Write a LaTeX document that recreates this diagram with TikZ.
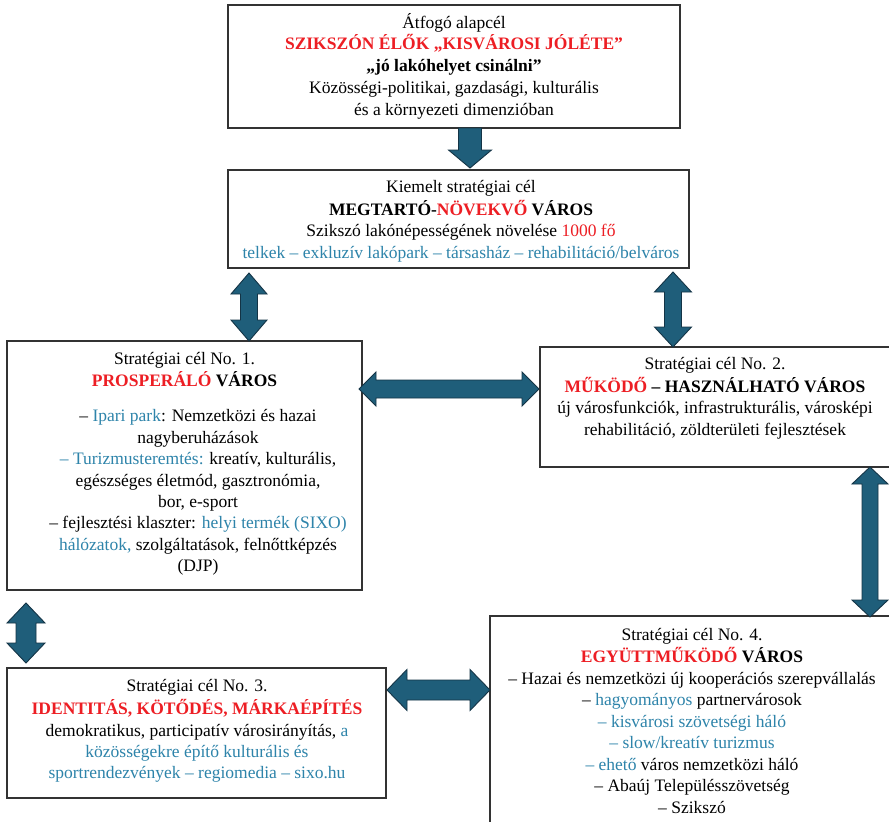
\documentclass[tikz,border=0pt]{standalone}
\usepackage{fontspec}
\setmainfont{Liberation Serif}
\usetikzlibrary{calc}
\definecolor{myred}{RGB}{237,30,36}
\definecolor{myblue}{RGB}{46,132,170}
\definecolor{arrfill}{RGB}{31,94,122}
\definecolor{arrline}{RGB}{20,52,70}
\newcommand\R[1]{\textcolor{myred}{#1}}
\newcommand\B[1]{\textcolor{myblue}{#1}}
\newcommand\vdarrow[5]{%
 \path[blockarrow] let \p1=(#1), \p2=(#2) in
 (\x1,\y1) -- (\x1+#4,\y1-#5) -- (\x1+#3,\y1-#5) -- (\x1+#3,\y2+#5) -- (\x1+#4,\y2+#5) -- (\x1,\y2) -- (\x1-#4,\y2+#5) -- (\x1-#3,\y2+#5) -- (\x1-#3,\y1-#5) -- (\x1-#4,\y1-#5) -- cycle;}
\newcommand\hdarrow[5]{%
 \path[blockarrow] let \p1=(#1), \p2=(#2) in
 (\x1,\y1) -- (\x1+#5,\y1+#4) -- (\x1+#5,\y1+#3) -- (\x2-#5,\y1+#3) -- (\x2-#5,\y1+#4) -- (\x2,\y1) -- (\x2-#5,\y1-#4) -- (\x2-#5,\y1-#3) -- (\x1+#5,\y1-#3) -- (\x1+#5,\y1-#4) -- cycle;}
\newcommand\sdarrow[5]{%
 \path[blockarrow] let \p1=(#1), \p2=(#2) in
 (\x1-#3,\y1) -- (\x1+#3,\y1) -- (\x1+#3,\y2+#5) -- (\x1+#4,\y2+#5) -- (\x1,\y2) -- (\x1-#4,\y2+#5) -- (\x1-#3,\y2+#5) -- cycle;}
\tikzset{
 box/.style={draw=black!80, line width=1.2pt, inner sep=0pt, outer sep=0pt},
 txt/.style={inner sep=0pt, outer sep=0pt, align=center, anchor=north, font=\fontsize{17.5}{21.4}\selectfont},
 blockarrow/.style={fill=arrfill, draw=arrline, line width=0.9pt, line join=miter}
}
\begin{document}
\begin{tikzpicture}[x=1pt,y=-1pt]
\useasboundingbox (0,0) rectangle (889,822);
\clip (0,0) rectangle (889,822);
\fill[white] (0,0) rectangle (889,822);
% boxes
\node[box, minimum width=452pt, minimum height=123pt] (b1) at (454,66.5) {};
\node[box, minimum width=461pt, minimum height=98pt] (b2) at (458.5,219) {};
\node[box, minimum width=355pt, minimum height=249pt] (b3) at (184.5,465.5) {};
\node[box, minimum width=358pt, minimum height=120pt] (b4) at (719,407) {};
\node[box, minimum width=410pt, minimum height=214pt] (b6) at (695,723) {};
\node[box, minimum width=379pt, minimum height=130pt] (b5) at (196.5,733) {};
% texts
\node[txt, font=\fontsize{17.5}{21.75}\selectfont] (t1) at (454,12.8) {\strut Átfogó alapcél\\
\textbf{\R{SZIKSZÓN ÉLŐK „KISVÁROSI JÓLÉTE”}}\\
\textbf{„jó lakóhelyet csinálni”}\\
Közösségi-politikai, gazdasági, kulturális\\
és a környezeti dimenzióban};
\node[txt] (t2) at (461,178) {\strut Kiemelt stratégiai cél\\
\textbf{MEGTARTÓ-\R{NÖVEKVŐ} VÁROS}\\
Szikszó lakónépességének növelése \R{1000 fő}\\
\B{telkek – exkluzív lakópark – társasház – rehabilitáció/belváros}};
\node[txt, font=\fontsize{17.5}{19.7}\selectfont] (t3a) at (184.5,351.2) {\strut Stratégiai cél No. 1.\\
\textbf{\R{PROSPERÁLÓ} VÁROS}};
\node[txt] (t3b) at (198,407) {\strut – \B{Ipari park}: Nemzetközi és hazai\\
nagyberuházások\\
\B{– Turizmusteremtés:} kreatív, kulturális,\\
egészséges életmód, gasztronómia,\\
bor, e-sport\\
– fejlesztési klaszter: \B{helyi termék (SIXO)}\\
\B{hálózatok,} szolgáltatások, felnőttképzés\\
(DJP)};
\node[txt] (t4) at (715,355) {\strut Stratégiai cél No. 2.\\
\textbf{\R{MŰKÖDŐ} – HASZNÁLHATÓ VÁROS}\\
új városfunkciók, infrastrukturális, városképi\\
rehabilitáció, zöldterületi fejlesztések};
\node[txt] (t5) at (197,677) {\strut Stratégiai cél No. 3.\\
\textbf{\R{IDENTITÁS, KÖTŐDÉS, MÁRKAÉPÍTÉS}}\\
demokratikus, participatív városirányítás, \B{a}\\
\B{közösségekre építő kulturális és}\\
\B{sportrendezvények – regiomedia – sixo.hu}};
\node[txt, font=\fontsize{17.5}{21.5}\selectfont] (t6) at (692,625) {\strut Stratégiai cél No. 4.\\
\textbf{\R{EGYÜTTMŰKÖDŐ} VÁROS}\\
– Hazai és nemzetközi új kooperációs szerepvállalás\\
– \B{hagyományos} partnervárosok\\
\B{– kisvárosi szövetségi háló}\\
\B{– slow/kreatív turizmus}\\
\B{– ehető} város nemzetközi háló\\
– Abaúj Településszövetség\\
– Szikszó};
% arrows
\coordinate (a0s) at ($(b1.south)+(16,0)$);
\coordinate (a0e) at ($(b2.north)+(11.5,-2)$);
\sdarrow{a0s}{a0e}{11.5pt}{21.5pt}{18pt}
\coordinate (a1s) at ($(b2.south)+(-209.5,5)$);
\coordinate (a1e) at ($(b3.north)+(64.5,0)$);
\vdarrow{a1s}{a1e}{8.5pt}{18pt}{21pt}
\coordinate (a2s) at ($(b2.south)+(214.5,4)$);
\coordinate (a2e) at ($(b4.north)+(-46,0)$);
\vdarrow{a2s}{a2e}{8.5pt}{18.5pt}{20pt}
\coordinate (a3s) at ($(b3.east)+(-3,-76.5)$);
\coordinate (a3e) at ($(b4.west)+(-1,-18)$);
\hdarrow{a3s}{a3e}{9pt}{17pt}{17pt}
\coordinate (a4s) at ($(b4.south)+(151,0)$);
\coordinate (a4e) at ($(b6.north)+(175,1)$);
\vdarrow{a4s}{a4e}{8pt}{18pt}{17pt}
\coordinate (a5s) at ($(b3.south)+(-158.5,13)$);
\coordinate (a5e) at ($(b5.north)+(-170.5,-5)$);
\vdarrow{a5s}{a5e}{10pt}{19pt}{20pt}
\coordinate (a6s) at ($(b5.east)+(1,-43)$);
\coordinate (a6e) at ($(b6.west)+(0,-33)$);
\hdarrow{a6s}{a6e}{10pt}{20.5pt}{20pt}
\end{tikzpicture}
\end{document}
